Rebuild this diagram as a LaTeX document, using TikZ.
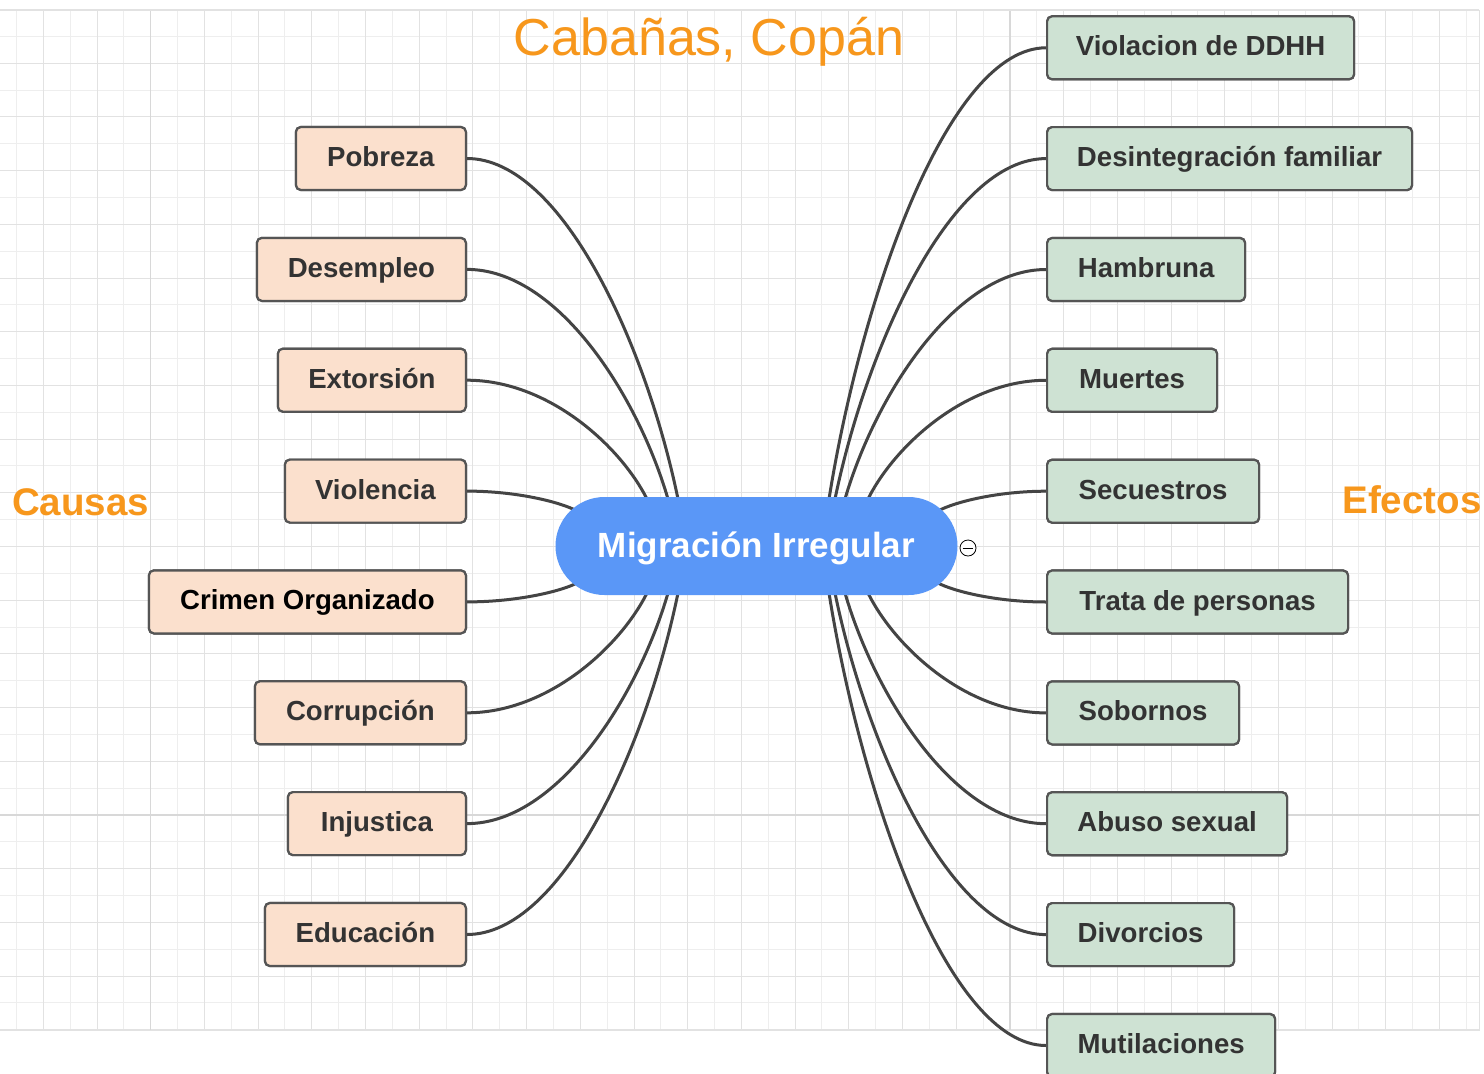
\documentclass[tikz,border=0pt]{standalone}
\usepackage{fontspec}
\setmainfont{Liberation Sans}
\usetikzlibrary{calc}
\definecolor{peach}{HTML}{FBE0CD}
\definecolor{sage}{HTML}{CEE2D3}
\definecolor{mmblue}{HTML}{5A97F7}
\definecolor{mmorange}{HTML}{F7971C}
\definecolor{edgec}{HTML}{555555}
\definecolor{linec}{HTML}{444444}
\definecolor{txtc}{HTML}{333333}
\definecolor{gridA}{HTML}{E2E2E2}
\definecolor{gridB}{HTML}{EEEEEE}
\definecolor{gridM}{HTML}{D8D8D8}
\newcommand\mmconn[2]{\draw[conn] let \p1=(#1), \p2=(#2) in (\p1) .. controls ({\x1+0.45*(\x2-\x1)},\y1) and ({\x2-0.15*(\x2-\x1)},{\y2-0.45*(\y2-\y1)}) .. (\p2);}
\begin{document}
\begin{tikzpicture}[x=1pt,y=-1pt,
  leaf/.style={draw=edgec, line width=2.2pt, rounded corners=5pt, minimum height=63pt, inner sep=0pt,
    text height=20pt, text depth=4pt, font=\fontsize{27.6}{30}\selectfont\bfseries, text=txtc},
  cause/.style={leaf, fill=peach, anchor=east, minimum width=#1},
  effect/.style={leaf, fill=sage, anchor=west, minimum width=#1},
  conn/.style={draw=linec, line width=3pt},
  label/.style={anchor=base, text=mmorange}]
\useasboundingbox (0,0) rectangle (1484,1074);
\fill[white] (0,0) rectangle (1484,1074);
% grid
\foreach \k in {-5,-3,...,49} \draw[gridB, line width=1pt] ({150.7+26.85*\k},10) -- ({150.7+26.85*\k},1030);
\foreach \k in {-29,-27,...,7} \draw[gridB, line width=1pt] (0,{815+26.85*\k}) -- (1479,{815+26.85*\k});
\foreach \k in {-4,-2,...,48} \draw[gridA, line width=1pt] ({150.7+26.85*\k},10) -- ({150.7+26.85*\k},1030);
\foreach \k in {-30,-28,...,8} \draw[gridA, line width=1pt] (0,{815+26.85*\k}) -- (1479,{815+26.85*\k});
\draw[gridM, line width=1.5pt] (150.7,10) -- (150.7,1030);
\draw[gridM, line width=1.5pt] (1009.9,10) -- (1009.9,1030);
\draw[gridM, line width=1.5pt] (0,815) -- (1479,815);
\draw[gridA, line width=1pt] (0,10) -- (1479,10) -- (1479,1030) -- (0,1030);

% titles
\node[label, font=\fontsize{52}{60}\selectfont] (title) at (709,55) {Cabañas, Copán};
\node[label, font=\fontsize{38.5}{44}\selectfont\bfseries] (causas) at (80.5,515) {Causas};
\node[label, font=\fontsize{38.5}{44}\selectfont\bfseries] (efectos) at (1412,513) {Efectos};

% attachment points on the central node
\coordinate (pl1) at (678,499);
\coordinate (pl2) at (668,499);
\coordinate (pl3) at (647,499);
\coordinate (pl4) at (577,511);
\coordinate (pl5) at (577,583);
\coordinate (pl6) at (647,593);
\coordinate (pl7) at (668,593);
\coordinate (pl8) at (678,593);
\coordinate (pr1) at (829,499);
\coordinate (pr2) at (835,499);
\coordinate (pr3) at (845,499);
\coordinate (pr4) at (868,499);
\coordinate (pr5) at (938,511);
\coordinate (pr6) at (938,583);
\coordinate (pr7) at (868,593);
\coordinate (pr8) at (845,593);
\coordinate (pr9) at (835,593);
\coordinate (pr10) at (829,593);

% causes
\node[cause=170] (l1) at (467,158.5) {Pobreza};
\node[cause=209] (l2) at (467,269.4) {Desempleo};
\node[cause=188] (l3) at (467,380.2) {Extorsión};
\node[cause=181] (l4) at (467,491.1) {Violencia};
\node[cause=317, text=black] (l5) at (467,601.9) {Crimen Organizado};
\node[cause=211] (l6) at (467,712.8) {Corrupción};
\node[cause=178] (l7) at (467,823.6) {Injustica};
\node[cause=201] (l8) at (467,934.5) {Educación};

% effects
\node[effect=307] (r1) at (1046,47.8) {Violacion de DDHH};
\node[effect=365] (r2) at (1046,158.6) {Desintegración familiar};
\node[effect=198] (r3) at (1046,269.5) {Hambruna};
\node[effect=170] (r4) at (1046,380.3) {Muertes};
\node[effect=212] (r5) at (1046,491.2) {Secuestros};
\node[effect=301] (r6) at (1046,602) {Trata de personas};
\node[effect=192] (r7) at (1046,712.9) {Sobornos};
\node[effect=240] (r8) at (1046,823.7) {Abuso sexual};
\node[effect=187] (r9) at (1046,934.6) {Divorcios};
\node[effect=228] (r10) at (1046,1045.5) {Mutilaciones};

% connectors
\foreach \i in {1,...,8} {\mmconn{l\i.east}{pl\i}}
\foreach \i in {1,...,10} {\mmconn{r\i.west}{pr\i}}

% redraw boxes over connector ends
\node[cause=170] at (467,158.5) {Pobreza};
\node[cause=209] at (467,269.4) {Desempleo};
\node[cause=188] at (467,380.2) {Extorsión};
\node[cause=181] at (467,491.1) {Violencia};
\node[cause=317, text=black] at (467,601.9) {Crimen Organizado};
\node[cause=211] at (467,712.8) {Corrupción};
\node[cause=178] at (467,823.6) {Injustica};
\node[cause=201] at (467,934.5) {Educación};
\node[effect=307] at (1046,47.8) {Violacion de DDHH};
\node[effect=365] at (1046,158.6) {Desintegración familiar};
\node[effect=198] at (1046,269.5) {Hambruna};
\node[effect=170] at (1046,380.3) {Muertes};
\node[effect=212] at (1046,491.2) {Secuestros};
\node[effect=301] at (1046,602) {Trata de personas};
\node[effect=192] at (1046,712.9) {Sobornos};
\node[effect=240] at (1046,823.7) {Abuso sexual};
\node[effect=187] at (1046,934.6) {Divorcios};
\node[effect=228] at (1046,1045.5) {Mutilaciones};

% central node
\node[fill=mmblue, rounded corners=49pt, minimum width=402pt, minimum height=98pt, inner sep=0pt,
  text=white, font=\fontsize{35}{40}\selectfont\bfseries, text height=25pt, text depth=2.5pt] (c) at (756.5,546) {Migración Irregular};

% collapse marker
\node[circle, draw=black, fill=white, line width=0.8pt, minimum size=16pt, inner sep=0pt] (col) at (968,548) {};
\draw[black, line width=0.8pt] ([xshift=3pt]col.west) -- ([xshift=-3pt]col.east);
\end{tikzpicture}
\end{document}
